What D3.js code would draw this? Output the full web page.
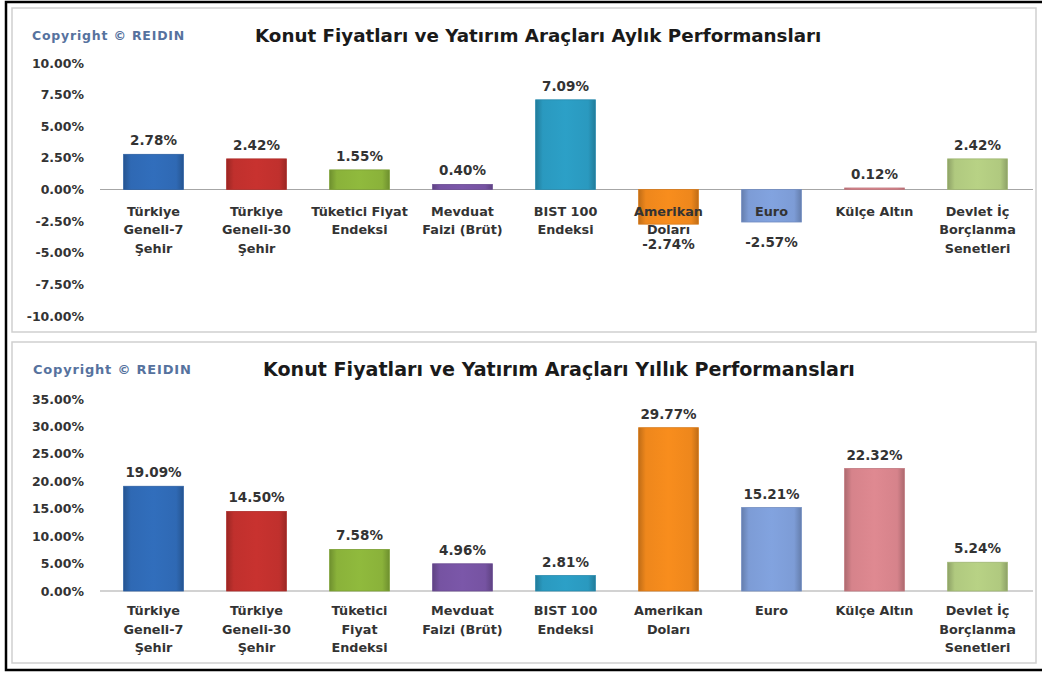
<!DOCTYPE html>
<html>
<head>
<meta charset="utf-8">
<script src="https://d3js.org/d3.v7.min.js"></script>
<style>
  body { margin: 0; background: #fff; }
  svg text { font-family: "DejaVu Sans", sans-serif; font-weight: bold; }
</style>
</head>
<body>
<svg id="chart"></svg>
<script>
// categories (line breaks as they appear under each chart)
const monthlyCategories = [
  ["Türkiye", "Geneli-7", "Şehir"],
  ["Türkiye", "Geneli-30", "Şehir"],
  ["Tüketici Fiyat", "Endeksi"],
  ["Mevduat", "Faizi (Brüt)"],
  ["BIST 100", "Endeksi"],
  ["Amerikan", "Doları"],
  ["Euro"],
  ["Külçe Altın"],
  ["Devlet İç", "Borçlanma", "Senetleri"]
];
const yearlyCategories = [
  ["Türkiye", "Geneli-7", "Şehir"],
  ["Türkiye", "Geneli-30", "Şehir"],
  ["Tüketici", "Fiyat", "Endeksi"],
  ["Mevduat", "Faizi (Brüt)"],
  ["BIST 100", "Endeksi"],
  ["Amerikan", "Doları"],
  ["Euro"],
  ["Külçe Altın"],
  ["Devlet İç", "Borçlanma", "Senetleri"]
];

const monthlyValues = [2.78, 2.42, 1.55, 0.40, 7.09, -2.74, -2.57, 0.12, 2.42];
const yearlyValues = [19.09, 14.50, 7.58, 4.96, 2.81, 29.77, 15.21, 22.32, 5.24];

const monthlyTicks = [10, 7.5, 5, 2.5, 0, -2.5, -5, -7.5, -10];
const yearlyTicks = [35, 30, 25, 20, 15, 10, 5, 0];

const barColors = ["#2f69b4", "#c0302d", "#8ab23a", "#7653a2", "#2a99bf",
                   "#ee871c", "#7d9cd6", "#d6838b", "#b0c97f"];

const monthlyTitle = "Konut Fiyatları ve Yatırım Araçları Aylık Performansları";
const yearlyTitle = "Konut Fiyatları ve Yatırım Araçları Yıllık Performansları";
const copyright = "Copyright © REIDIN";

const pct = d => d.toFixed(2) + "%";

const W = 1042, H = 673;
const svg = d3.select("#chart").attr("width", W).attr("height", H);

// gradients for the bars
const defs = svg.append("defs");
barColors.forEach((c, i) => {
  const g = defs.append("linearGradient").attr("id", "grad" + i)
    .attr("x1", "0%").attr("x2", "100%").attr("y1", "0%").attr("y2", "0%");
  const base = d3.color(c);
  g.append("stop").attr("offset", "0%").attr("stop-color", base.darker(0.6));
  g.append("stop").attr("offset", "12%").attr("stop-color", base);
  g.append("stop").attr("offset", "50%").attr("stop-color", base.brighter(0.12));
  g.append("stop").attr("offset", "88%").attr("stop-color", base);
  g.append("stop").attr("offset", "100%").attr("stop-color", base.darker(0.6));
});

// outer black frame
svg.append("rect")
  .attr("x", 6).attr("y", 2).attr("width", 1045).attr("height", 668)
  .attr("fill", "none").attr("stroke", "#000").attr("stroke-width", 2.5);

function drawPanel(o) {
  const g = svg.append("g");

  g.append("rect")
    .attr("x", 12).attr("y", o.box[0]).attr("width", 1024).attr("height", o.box[1] - o.box[0])
    .attr("fill", "#fff").attr("stroke", "#cfcfcf").attr("stroke-width", 1.5);

  g.append("text")
    .attr("x", o.copyX).attr("y", o.titleY + 4)
    .attr("font-size", o.copySize).attr("letter-spacing", 0.8).attr("fill", "#56729e")
    .text(copyright);

  g.append("text")
    .attr("x", o.titleX).attr("y", o.titleY + 6)
    .attr("font-size", o.titleSize).attr("fill", "#1a1a1a")
    .text(o.title);

  const x = d3.scaleBand()
    .domain(d3.range(o.values.length))
    .range([102, 1029])
    .paddingInner(0.42).paddingOuter(0.21);

  const y = d3.scaleLinear().domain(o.domain).range(o.range);

  // y axis labels
  g.append("g")
    .attr("transform", "translate(84,0)")
    .call(d3.axisLeft(y).tickValues(o.ticks).tickSize(0).tickPadding(0)
      .tickFormat(pct))
    .call(a => a.select(".domain").remove())
    .selectAll("text")
      .attr("font-size", 12.5).attr("fill", "#333")
      .attr("font-family", "DejaVu Sans").attr("font-weight", "bold");

  // zero line
  g.append("line")
    .attr("x1", 100).attr("x2", 1033)
    .attr("y1", y(0)).attr("y2", y(0))
    .attr("stroke", "#a6a6a6").attr("stroke-width", 1.2);

  // bars
  g.selectAll("rect.bar")
    .data(o.values)
    .join("rect")
      .attr("class", "bar")
      .attr("x", (d, i) => x(i))
      .attr("width", x.bandwidth())
      .attr("y", d => y(Math.max(0, d)))
      .attr("height", d => Math.max(1.5, Math.abs(y(d) - y(0))))
      .attr("fill", (d, i) => "url(#grad" + i + ")")
      .attr("stroke", (d, i) => d3.color(barColors[i]).darker(0.3))
      .attr("stroke-width", 0.8);

  // category labels
  const cat = g.selectAll("text.cat")
    .data(o.categories)
    .join("text")
      .attr("class", "cat")
      .attr("text-anchor", "middle")
      .attr("font-size", 12.8).attr("fill", "#333");
  cat.selectAll("tspan")
    .data((d, i) => d.map(t => ({ t, i })))
    .join("tspan")
      .attr("x", d => x(d.i) + x.bandwidth() / 2)
      .attr("y", (d, j) => y(0) + o.catOffset + j * 18.5)
      .text(d => d.t);

  // value labels
  g.selectAll("text.val")
    .data(o.values)
    .join("text")
      .attr("class", "val")
      .attr("text-anchor", "middle")
      .attr("font-size", 13.5).attr("fill", "#333")
      .attr("x", (d, i) => x(i) + x.bandwidth() / 2)
      .attr("y", d => d >= 0 ? y(d) - 9 : y(d) + 25)
      .text(pct);
}

drawPanel({
  box: [8, 332], titleY: 36, title: monthlyTitle, titleX: 255, titleSize: 18.3,
  copyX: 32, copySize: 12.5,
  values: monthlyValues, categories: monthlyCategories, ticks: monthlyTicks,
  domain: [-10, 10], range: [316, 63], catOffset: 26
});

drawPanel({
  box: [342, 663], titleY: 370, title: yearlyTitle, titleX: 263, titleSize: 19.1,
  copyX: 33, copySize: 13,
  values: yearlyValues, categories: yearlyCategories, ticks: yearlyTicks,
  domain: [0, 35], range: [591, 399], catOffset: 24
});
</script>
</body>
</html>
